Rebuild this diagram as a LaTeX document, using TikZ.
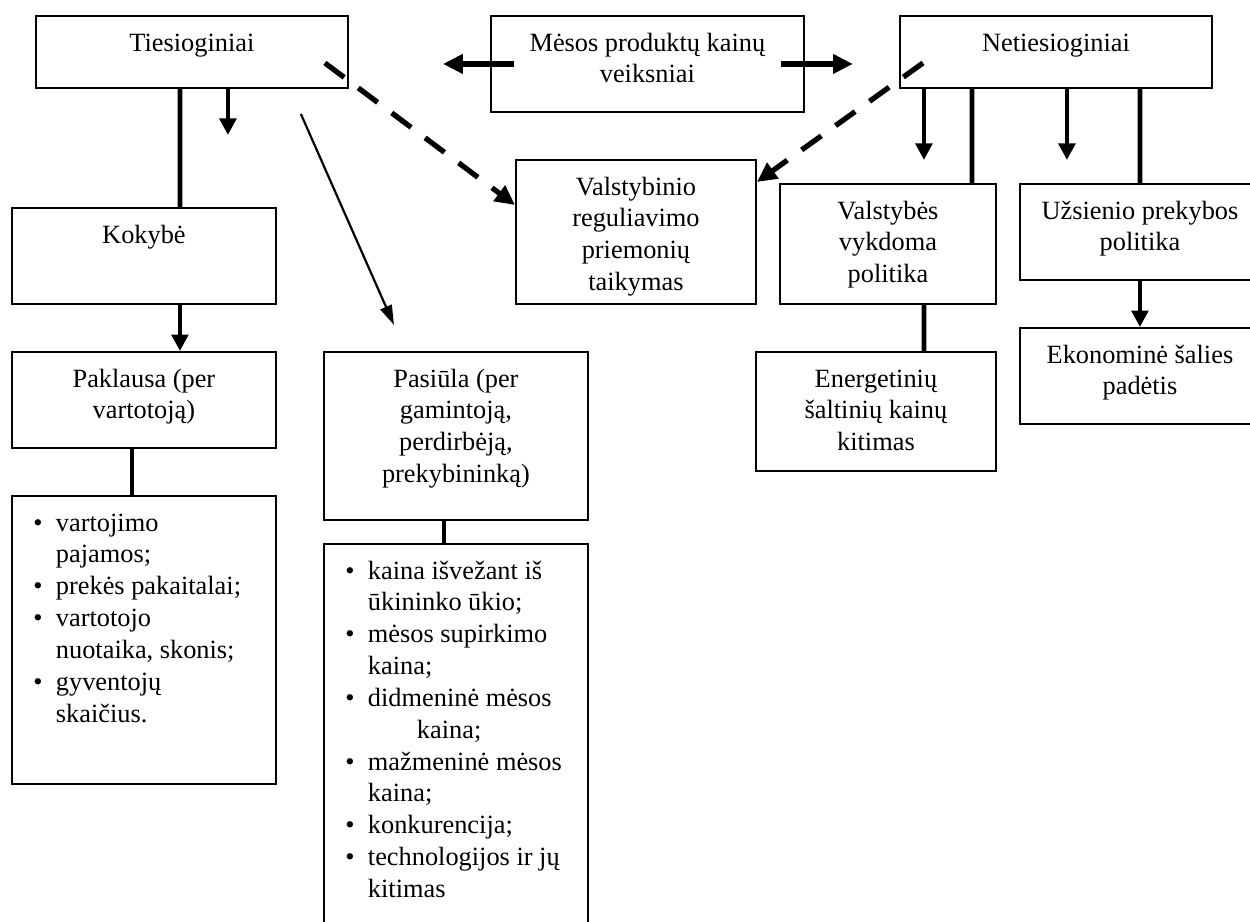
\documentclass[tikz,border=0pt]{standalone}
\usepackage{fontspec}
\setmainfont{Liberation Serif}
\usetikzlibrary{arrows.meta}

\newcommand{\blocktext}[3]{\parbox[c][#2][t]{#1}{\centering\rule{0pt}{16pt}#3}}
\newcommand{\listtext}[3]{\parbox[c][#2][t]{#1}{\raggedright\leftskip=0.704cm\leavevmode\rule{0pt}{16pt}#3}}
\newcommand{\itm}{\leavevmode\llap{\textbullet\hspace{0.214cm}}}

\begin{document}
\begin{tikzpicture}[x=0.016cm, y=-0.016cm,
        every node/.style={font=\fontsize{12pt}{14.5pt}\selectfont},
        fbox/.style={draw, line width=0.9pt, inner sep=0pt, anchor=north west},
        link/.style={line width=2.2pt},
        bigarrow/.style={line width=2.7pt, -{Triangle[length=9pt,width=8.5pt]}},
        downarrow/.style={line width=2.2pt, -{Triangle[length=7.5pt,width=7.5pt]}},
        thinarrow/.style={line width=1pt, -{Triangle[length=9pt,width=5.5pt]}},
        dasharrow/.style={line width=2.4pt, dash pattern=on 11pt off 8pt, -{Triangle[length=9pt,width=8.5pt]}}]
            \useasboundingbox (0,0) rectangle (1250,922);

            % top row
            \node[fbox] (tsg) at (35,15) {\blocktext{4.992cm}{1.152cm}{Tiesioginiai}};
            \node[fbox] (mesos) at (490,15) {\blocktext{5.008cm}{1.536cm}{Mėsos produktų kainų\\veiksniai}};
            \node[fbox] (ntsg) at (899,15) {\blocktext{4.992cm}{1.152cm}{Netiesioginiai}};

            % middle
            \node[fbox] (valreg) at (515,159) {\blocktext{3.84cm}{2.304cm}{Valstybinio\\reguliavimo\\priemonių\\taikymas}};
            \node[fbox] (kok) at (11,207) {\blocktext{4.224cm}{1.536cm}{Kokybė}};
            \node[fbox] (valpol) at (779,183) {\blocktext{3.456cm}{1.92cm}{Valstybės\\vykdoma\\politika}};
            \node[fbox] (uzs) at (1019,183) {\blocktext{3.84cm}{1.536cm}{Užsienio prekybos\\politika}};
            \node[fbox] (eko) at (1019,327) {\blocktext{3.84cm}{1.536cm}{Ekonominė šalies\\padėtis}};
            \node[fbox] (energ) at (755,351) {\blocktext{3.84cm}{1.904cm}{Energetinių\\šaltinių kainų\\kitimas}};
            \node[fbox] (pakl) at (11,351) {\blocktext{4.224cm}{1.536cm}{Paklausa (per\\vartotoją)}};
            \node[fbox] (pas) at (323,351) {\blocktext{4.224cm}{2.688cm}{Pasiūla (per\\gamintoją,\\perdirbėją,\\prekybininką)}};

            % lists
            \node[fbox] (listl) at (11,495) {\listtext{4.224cm}{4.608cm}{%
                \itm vartojimo\\ pajamos;\par
                \itm prekės pakaitalai;\par
                \itm vartotojo\\ nuotaika, skonis;\par
                \itm gyventojų\\ skaičius.}};
            \node[fbox] (listr) at (323,543) {\listtext{4.224cm}{6.72cm}{%
                \itm kaina išvežant iš\\ ūkininko ūkio;\par
                \itm mėsos supirkimo\\ kaina;\par
                \itm didmeninė mėsos\\ \hspace*{0.784cm}kaina;\par
                \itm mažmeninė mėsos\\ kaina;\par
                \itm konkurencija;\par
                \itm technologijos ir jų\\ kitimas}};

            % free ends
            \coordinate (lft) at ([shift={(-47,0)}]mesos.west);
            \coordinate (rgt) at ([shift={(48,0)}]mesos.east);
            \coordinate (tsgdown) at ([shift={(36,46)}]tsg.south);
            \coordinate (thinA) at ([shift={(-48,25)}]tsg.south east);
            \coordinate (thinB) at ([shift={(71,-26)}]pas.north west);
            \coordinate (ntsgA) at ([shift={(-132,71)}]ntsg.south);
            \coordinate (ntsgB) at ([shift={(11,71)}]ntsg.south);

            \draw[bigarrow] ([shift={(24,0)}]mesos.west) -- (lft);
            \draw[bigarrow] ([shift={(-24,0)}]mesos.east) -- (rgt);
            \draw[dasharrow] ([shift={(-24,11)}]tsg.east) -- ([shift={(0,46)}]valreg.north west);
            \draw[dasharrow] ([shift={(24,11)}]ntsg.west) -- ([shift={(0,23)}]valreg.north east);

            \draw[link] ([shift={(-12,0)}]tsg.south) -- ([shift={(36,0)}]kok.north);
            \draw[downarrow] ([shift={(36,0)}]tsg.south) -- (tsgdown);
            \draw[thinarrow] (thinA) -- (thinB);
            \draw[downarrow] ([shift={(36,0)}]kok.south) -- ([shift={(36,0)}]pakl.north);
            \draw[link] ([shift={(-12,0)}]pakl.south) -- ([shift={(-12,0)}]listl.north);
            \draw[link] ([shift={(-12,0)}]pas.south) -- ([shift={(-12,0)}]listr.north);

            \draw[downarrow] ([shift={(-132,0)}]ntsg.south) -- (ntsgA);
            \draw[link] ([shift={(-84,0)}]ntsg.south) -- ([shift={(84,0)}]valpol.north);
            \draw[downarrow] ([shift={(11,0)}]ntsg.south) -- (ntsgB);
            \draw[link] ([shift={(84,0)}]ntsg.south) -- (uzs.north);
            \draw[link] ([shift={(36,0)}]valpol.south) -- ([shift={(48,0)}]energ.north);
            \draw[downarrow] (uzs.south) -- (eko.north);
        \end{tikzpicture}
\end{document}
